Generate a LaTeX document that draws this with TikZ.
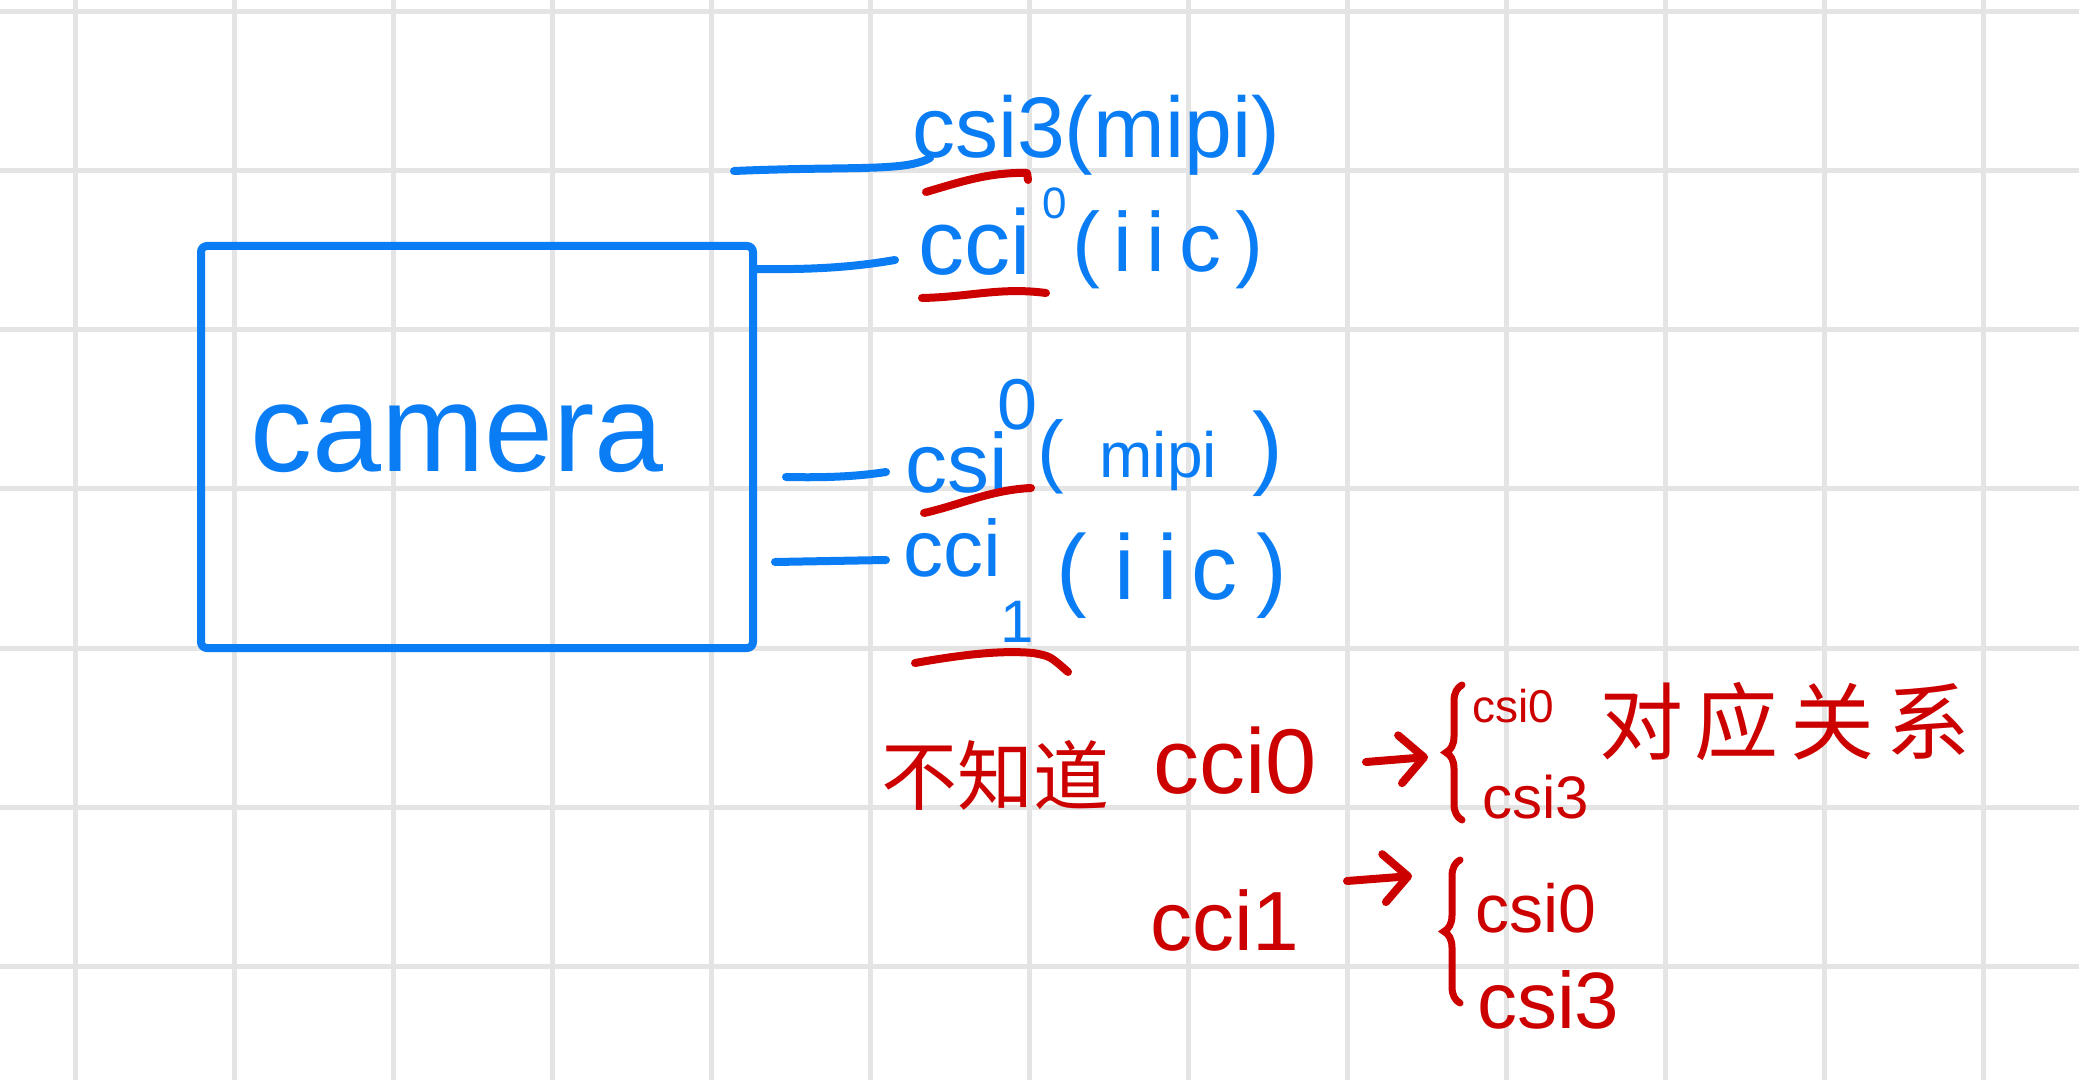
\documentclass[tikz,border=0pt]{standalone}
\usepackage{fontspec}
\setmainfont{Liberation Sans}
\newfontfamily\cjkfont{Noto Sans CJK SC}
\usetikzlibrary{decorations.pathreplacing,arrows.meta}
\definecolor{penblue}{RGB}{10,125,245}
\definecolor{penred}{RGB}{205,0,0}
\definecolor{gridgray}{RGB}{228,228,228}
\newcommand{\fs}[1]{\fontsize{#1}{#1}\selectfont}
\begin{document}
\begin{tikzpicture}[x=0.5pt,y=-0.5pt,
  gridline/.style={gridgray,line width=2.5pt},
  blueline/.style={penblue,line width=4pt,line cap=round,line join=round},
  redline/.style={penred,line width=4pt,line cap=round,line join=round},
  bluetext/.style={text=penblue,inner sep=0pt,outer sep=0pt},
  redtext/.style={text=penred,inner sep=0pt,outer sep=0pt},
  redbrace/.style={penred,line width=3.5pt,line cap=round,decorate,decoration={brace,amplitude=8pt}},
  redarrow/.style={redline,-{Straight Barb[length=12pt,width=24pt,round]}}]
% background and grid
\fill[white] (0,0) rectangle (2079,1080);
\useasboundingbox (0,0) rectangle (2079,1080);
\foreach \i in {0,...,12} \draw[gridline] ({75+159*\i},0) -- ({75+159*\i},1080);
\foreach \j in {0,...,6} \draw[gridline] (0,{12+159*\j}) -- (2079,{12+159*\j});
% camera box
\node[draw=penblue,line width=4pt,rounded corners=3pt,minimum width=276pt,minimum height=201pt,inner sep=0pt] (box) at (477,447) {};
\node[bluetext,font=\fs{62},anchor=base] (camtext) at (457,472) {camera};
% blue labels
\node[bluetext,font=\fs{43},anchor=base west] (csi3) at (912,158) {csi3(mipi)};
\node[bluetext,font=\fs{46},anchor=base west] (cci0) at (918,275) {cci};
\node[bluetext,font=\fs{22}] (cci0sup) at (1055,203) {0};
\node[bluetext,font=\fs{42},anchor=base west] (cci0b) at (1072,272) {(\,i\,i\,c\,)};
\node[bluetext,font=\fs{42},anchor=base west] (csi0) at (905,493) {csi};
\node[bluetext,font=\fs{36}] (csi0sup) at (1018,405) {0};
\node[bluetext,font=\fs{40},anchor=base west] (csi0b) at (1037,478) {(\hspace{0.45em}{\fs{32}mipi}\hspace{0.45em}{\fs{46})}};
\node[bluetext,font=\fs{40},anchor=base west] (cci1) at (903,577) {cci};
\node[bluetext,font=\fs{30}] (cci1sub) at (1017,622) {1};
\node[bluetext,font=\fs{46},anchor=base west] (cci1b) at (1056,600) {(\hspace{0.3em}i\hspace{0.25em}i\hspace{0.15em}c\hspace{0.2em})};
% blue connectors
\coordinate (s3) at (734,171);
\coordinate (s0) at (757,269);
\coordinate (t0) at (786,477);
\coordinate (t1) at (775,562);
\draw[blueline] (s3) .. controls (850,166) and (905,172) .. ([xshift=9pt]csi3.base west);
\draw[blueline] (s0) .. controls (820,270) and (860,266) .. ([xshift=-11.5pt,yshift=7.5pt]cci0.base west);
\draw[blueline] (t0) .. controls (830,478) and (860,476) .. ([xshift=-9.5pt,yshift=10.5pt]csi0.base west);
\draw[blueline] (t1) -- ([xshift=-8.5pt,yshift=8.5pt]cci1.base west);
% red underlines
\draw[redline] (926,192) .. controls (960,182) and (990,172) .. (1027,173) -- (1028,180);
\draw[redline] (922,298) .. controls (970,297) and (1000,287) .. (1046,293);
\draw[redline] (924,513) .. controls (960,505) and (990,490) .. (1031,488);
\draw[redline] (915,663) .. controls (960,655) and (1000,650) .. (1033,653) .. controls (1050,656) .. (1068,672);
% red notes, line 1
\node[redtext,font=\cjkfont\fs{38}] (buzhi) at (995,775) {不知道};
\node[redtext,font=\fs{46},anchor=base west] (r0) at (1153,793) {cci0};
\coordinate (a0s) at (1366,762);
\coordinate (a0e) at (1428,757);
\draw[redarrow] (a0s) -- (a0e);
\coordinate (b0lo) at (1462,820);
\coordinate (b0hi) at (1462,685);
\draw[redbrace] (b0lo) -- (b0hi);
\node[redtext,font=\fs{23},anchor=base west] (r0a) at (1472,722) {csi0};
\node[redtext,font=\fs{30},anchor=base west] (r0b) at (1482,818) {csi3};
\node[redtext,font=\cjkfont\fs{42}] (duiying) at (1785,722) {对\hspace{6pt}应\hspace{6pt}关\hspace{6pt}系};
% red notes, line 2
\node[redtext,font=\fs{42},anchor=base west] (r1) at (1150,950) {cci1};
\coordinate (a1s) at (1347,881);
\coordinate (a1e) at (1412,876);
\draw[redarrow] (a1s) -- (a1e);
\coordinate (b1lo) at (1460,1003);
\coordinate (b1hi) at (1460,860);
\draw[redbrace] (b1lo) -- (b1hi);
\node[redtext,font=\fs{34},anchor=base west] (r1a) at (1475,932) {csi0};
\node[redtext,font=\fs{40},anchor=base west] (r1b) at (1477,1028) {csi3};
\end{tikzpicture}
\end{document}
